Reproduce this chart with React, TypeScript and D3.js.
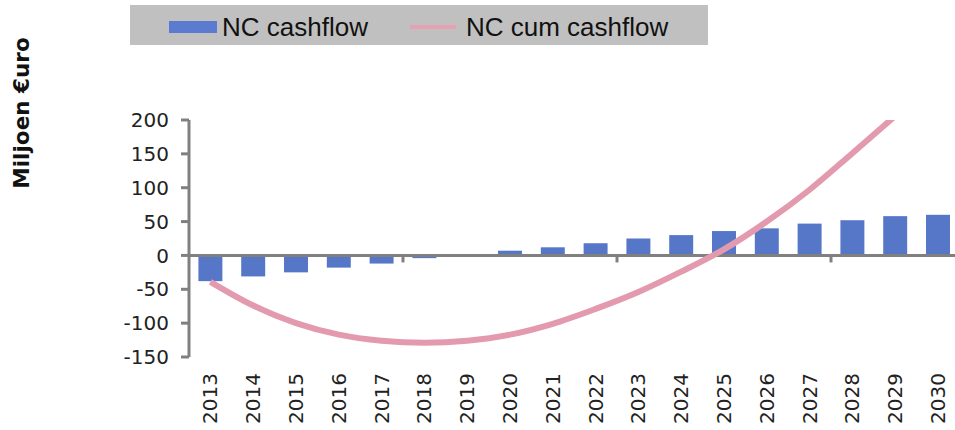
import React from "react";
import * as d3 from "d3";

const years = ["2013","2014","2015","2016","2017","2018","2019","2020","2021","2022","2023","2024","2025","2026","2027","2028","2029","2030"];
const cashflow = [-38,-31,-25,-18,-12,-4,0,7,12,18,25,30,36,40,47,52,58,60];
const cumCashflow = [-39,-74,-100,-117,-126,-129,-126,-117,-101,-79,-54,-24,9,50,97,151,206,262];
const yTicks = [200,150,100,50,0,-50,-100,-150];
const legendLabels = ["NC cashflow","NC cum cashflow"];

const W = 955, H = 430;
const left = 189, top = 120, bottom = 357;
const step = 42.8;
const right = left + step * years.length;

export default function App() {
  const x = d3.scaleBand<string>().domain(years).range([left, right]).paddingInner(0.44).paddingOuter(0.22);
  const y = d3.scaleLinear().domain([-150, 200]).range([bottom, top]);
  const line = d3.line<number>()
    .x((_, i) => (x(years[i]) as number) + x.bandwidth() / 2)
    .y(d => y(d))
    .curve(d3.curveCatmullRom.alpha(0.5));
  const axisColor = "#808080";
  const tickIdx = [5, 10, 15];
  return (
    <svg width={W} height={H} style={{ position: "absolute", left: 0, top: 0, background: "#fff" }}>
      <defs>
        <clipPath id="plotclip">
          <rect x={left} y={top} width={W - left} height={bottom - top + 20} />
        </clipPath>
      </defs>
      {/* legend */}
      <rect x={130} y={5} width={578} height={40} fill="#c0c0c0" />
      <rect x={169} y={21} width={48} height={12} fill="#5b7bd0" />
      <text x={222} y={36} fontFamily="Liberation Sans, Arial, sans-serif" fontSize={26} fill="#111">{legendLabels[0]}</text>
      <line x1={410} x2={456} y1={27} y2={27} stroke="#e6a2b3" strokeWidth={4} />
      <text x={466} y={36} fontFamily="Liberation Sans, Arial, sans-serif" fontSize={26} fill="#111">{legendLabels[1]}</text>
      {/* y title */}
      <text transform={`translate(29,113) rotate(-90)`} textAnchor="middle" fontFamily="DejaVu Sans, Verdana, sans-serif" fontWeight="bold" fontSize={21.5} fill="#111">Miljoen €uro</text>
      {/* bars */}
      {cashflow.map((v, i) => (
        <rect key={years[i]} x={x(years[i])} width={x.bandwidth()} y={y(Math.max(0, v))} height={Math.abs(y(v) - y(0))} fill="#5676c8" />
      ))}
      {/* zero axis */}
      <line x1={left} x2={W} y1={y(0)} y2={y(0)} stroke={axisColor} strokeWidth={3} />
      {tickIdx.map(i => {
        const xx = (x(years[i]) as number) - (step - x.bandwidth()) / 2;
        return <line key={i} x1={xx} x2={xx} y1={y(0)} y2={y(0) + 7} stroke={axisColor} strokeWidth={3} />;
      })}
      {/* y axis */}
      <line x1={left} x2={left} y1={top} y2={bottom} stroke={axisColor} strokeWidth={3} />
      {yTicks.map(t => (
        <g key={t}>
          <line x1={left - 8} x2={left} y1={y(t)} y2={y(t)} stroke={axisColor} strokeWidth={3} />
          <text x={169} y={y(t)} dy="0.36em" textAnchor="end" fontFamily="DejaVu Sans, Verdana, sans-serif" fontSize={20} fill="#222">{t < 0 ? "-" + Math.abs(t) : t}</text>
        </g>
      ))}
      {/* cumulative line */}
      <path d={line(cumCashflow) || ""} fill="none" stroke="#e39aae" strokeWidth={6} clipPath="url(#plotclip)" />
      {/* x labels */}
      {years.map(yr => (
        <text key={yr} transform={`translate(${(x(yr) as number) + x.bandwidth() / 2},373) rotate(-90)`} textAnchor="end" dominantBaseline="central" fontFamily="DejaVu Sans, Verdana, sans-serif" fontSize={20} fill="#222">{yr}</text>
      ))}
    </svg>
  );
}
